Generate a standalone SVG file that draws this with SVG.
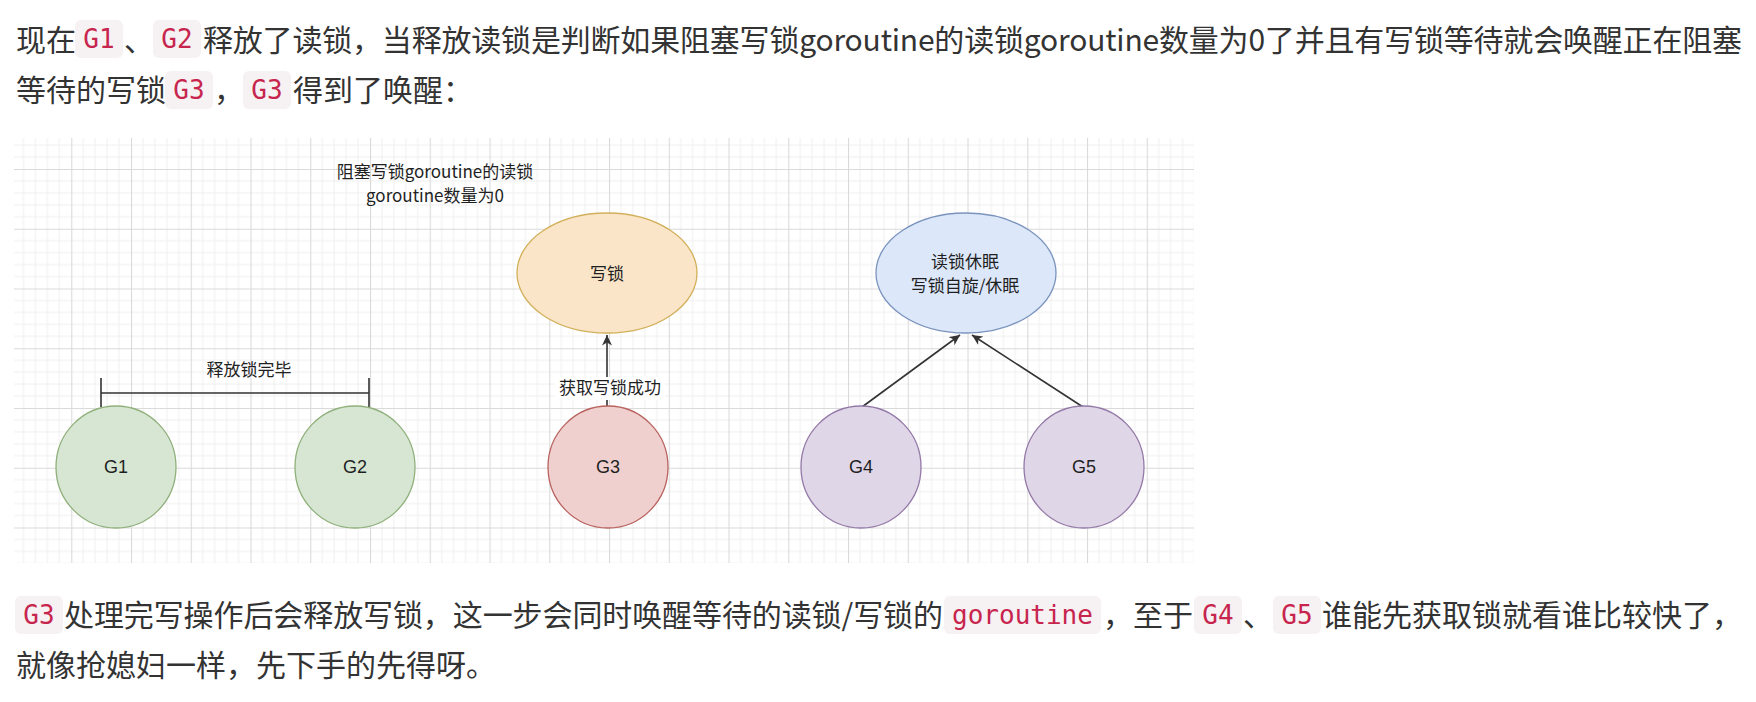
<svg xmlns="http://www.w3.org/2000/svg" width="1756" height="702" viewBox="0 0 1756 702">
<defs>
<style>
.body{font-family:"Noto Sans CJK SC","Noto Sans",sans-serif;font-size:30px;fill:#333333}
.code{font-family:"DejaVu Sans Mono","Liberation Mono",monospace;font-size:26px;fill:#c7254e}
.badge{fill:#f6f1f3}
.dg{font-family:"Liberation Sans","Noto Sans CJK SC",sans-serif;font-size:18px;fill:#1f1f1f}
.lbl{font-family:"Noto Sans CJK SC","Liberation Sans",sans-serif;font-size:17px;fill:#1f1f1f}
.edge{stroke:#333333;stroke-width:1.6;fill:none}
</style>
<pattern id="grid" patternUnits="userSpaceOnUse" x="11.5" y="49.5" width="59.75" height="59.75">
<path d="M11.95 0V59.75M23.9 0V59.75M35.85 0V59.75M47.8 0V59.75M0 11.95H59.75M0 23.9H59.75M0 35.85H59.75M0 47.8H59.75" stroke="#efefef" stroke-width="1" fill="none"/>
<path d="M0.5 0V59.75M0 0.5H59.75" stroke="#dadada" stroke-width="1.2" fill="none"/>
</pattern>
<marker id="arr" markerUnits="userSpaceOnUse" markerWidth="11" markerHeight="10" refX="10.5" refY="5" orient="auto">
<path d="M0,0 L10.5,5 L0,10 L3,5 z" fill="#333333"/>
</marker>
</defs>
<rect width="1756" height="702" fill="#ffffff"/>

<g id="text-top">
<text class="body" x="16" y="51">现在</text>
<rect class="badge" x="75" y="20" width="48" height="38" rx="6"/>
<text class="code" x="99" y="48" text-anchor="middle">G1</text>
<text class="body" x="124" y="51">、</text>
<rect class="badge" x="153" y="20" width="48" height="38" rx="6"/>
<text class="code" x="177" y="48" text-anchor="middle">G2</text>
<text class="body" x="203" y="51" textLength="1539" lengthAdjust="spacing">释放了读锁，当释放读锁是判断如果阻塞写锁goroutine的读锁goroutine数量为0了并且有写锁等待就会唤醒正在阻塞</text>
<text class="body" x="16" y="101">等待的写锁</text>
<rect class="badge" x="165" y="71" width="48" height="38" rx="6"/>
<text class="code" x="189" y="99" text-anchor="middle">G3</text>
<text class="body" x="214" y="101">，</text>
<rect class="badge" x="243" y="71" width="48" height="38" rx="6"/>
<text class="code" x="267" y="99" text-anchor="middle">G3</text>
<text class="body" x="293" y="101">得到了唤醒：</text>
</g>

<g id="diagram-bg">
<rect x="14" y="138" width="1180" height="425" fill="#ffffff"/>
<rect x="14" y="138" width="1180" height="425" fill="url(#grid)"/>
</g>

<g id="title-label">
<text class="lbl" x="435" y="178" text-anchor="middle">阻塞写锁goroutine的读锁</text>
<text class="lbl" x="435" y="202" text-anchor="middle">goroutine数量为0</text>
</g>

<g id="connectors">
<path class="edge" d="M101 393H369M101 378V407M369 378V407" stroke-width="2"/>
<line class="edge" x1="607" y1="406" x2="607" y2="335" marker-end="url(#arr)"/>
<line class="edge" x1="862" y1="407" x2="960" y2="335" marker-end="url(#arr)"/>
<line class="edge" x1="1083" y1="407" x2="972" y2="335" marker-end="url(#arr)"/>
<rect x="555" y="377" width="110" height="23" fill="#ffffff"/>
<text class="lbl" x="610" y="394" text-anchor="middle">获取写锁成功</text>
<text class="lbl" x="249" y="376" text-anchor="middle">释放锁完毕</text>
</g>

<g id="write-lock">
<ellipse cx="607" cy="273" rx="90" ry="60" fill="#fae5c8" stroke="#d2b05a" stroke-width="1.3"/>
<text class="lbl" x="607" y="280" text-anchor="middle">写锁</text>
</g>
<g id="sleep">
<ellipse cx="966" cy="273" rx="90" ry="60" fill="#dce8fa" stroke="#7a93bd" stroke-width="1.3"/>
<text class="lbl" x="965" y="268" text-anchor="middle">读锁休眠</text>
<text class="lbl" x="965" y="292" text-anchor="middle">写锁自旋/休眠</text>
</g>
<g id="G1">
<ellipse cx="116" cy="467" rx="60" ry="61" fill="#d6e6d3" stroke="#8fb07a" stroke-width="1.3"/>
<text class="dg" x="116" y="473" text-anchor="middle">G1</text>
</g>
<g id="G2">
<ellipse cx="355" cy="467" rx="60" ry="61" fill="#d6e6d3" stroke="#8fb07a" stroke-width="1.3"/>
<text class="dg" x="355" y="473" text-anchor="middle">G2</text>
</g>
<g id="G3">
<ellipse cx="608" cy="467" rx="60" ry="61" fill="#f0d0ce" stroke="#b8625e" stroke-width="1.3"/>
<text class="dg" x="608" y="473" text-anchor="middle">G3</text>
</g>
<g id="G4">
<ellipse cx="861" cy="467" rx="60" ry="61" fill="#dfd6e7" stroke="#9479a8" stroke-width="1.3"/>
<text class="dg" x="861" y="473" text-anchor="middle">G4</text>
</g>
<g id="G5">
<ellipse cx="1084" cy="467" rx="60" ry="61" fill="#dfd6e7" stroke="#9479a8" stroke-width="1.3"/>
<text class="dg" x="1084" y="473" text-anchor="middle">G5</text>
</g>

<g id="text-bottom">
<rect class="badge" x="15" y="596" width="48" height="38" rx="6"/>
<text class="code" x="39" y="624" text-anchor="middle">G3</text>
<text class="body" x="64" y="626" textLength="879" lengthAdjust="spacing">处理完写操作后会释放写锁，这一步会同时唤醒等待的读锁/写锁的</text>
<rect class="badge" x="944" y="596" width="157" height="38" rx="6"/>
<text class="code" x="1022.5" y="624" text-anchor="middle">goroutine</text>
<text class="body" x="1103" y="626">，至于</text>
<rect class="badge" x="1194" y="596" width="48" height="38" rx="6"/>
<text class="code" x="1218" y="624" text-anchor="middle">G4</text>
<text class="body" x="1243" y="626">、</text>
<rect class="badge" x="1273" y="596" width="48" height="38" rx="6"/>
<text class="code" x="1297" y="624" text-anchor="middle">G5</text>
<text class="body" x="1322" y="626">谁能先获取锁就看谁比较快了，</text>
<text class="body" x="16" y="676">就像抢媳妇一样，先下手的先得呀。</text>
</g>
</svg>
